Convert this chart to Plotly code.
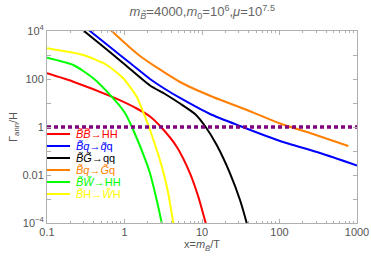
import plotly.graph_objects as go

# ---- data ----
red_x = [0.1, 0.2185, 0.6835, 1.437, 2.133, 2.958, 4.716, 7.00, 8.96, 11.16, 11.78]
red_y = [172.8, 77.2, 18.3, 5.90, 2.74, 1.0, 0.151, 0.01177, 1.25e-3, 1e-4, 5.6e-5]

yel_x = [0.1, 0.2939, 0.5894, 0.9563, 1.437, 1.839, 2.133, 3.047, 3.641, 4.264, 4.457]
yel_y = [1903, 1000, 383, 110, 18.3, 2.69, 0.75, 0.0215, 1.96e-3, 1e-4, 4.2e-5]

grn_x = [0.1, 0.2185, 0.3957, 0.6835, 1.015, 1.299, 1.934, 2.133, 2.603, 3.020, 3.139]
grn_y = [772, 383, 107, 18.3, 3.83, 0.75, 0.0307, 0.01177, 9.08e-4, 1e-4, 5.1e-5]

blk_x = [0.259, 0.483, 0.956, 2.133, 3.332, 5.202, 8.123, 10.93, 15.48, 22.98, 30.93, 37.74, 40.42]
blk_y = [14700, 2873, 464, 53.6, 23.7, 9.5, 3.48, 1.10, 0.178, 0.0118, 9.08e-4, 1e-4, 4.2e-5]

blu_x = [0.309, 0.650, 1.178, 2.133, 3.332, 5.202, 12.69, 30.93, 101.5, 333.1, 1000]
blu_y = [14700, 2154, 464, 100, 38.3, 16.2, 3.48, 1.10, 0.261, 0.0825, 0.0249]

org_x = [0.586, 0.6835, 1.585, 5.202, 13.87, 38.07, 101.5, 270.5, 772]
org_y = [16160, 10000, 908, 75.0, 17.8, 5.11, 1.40, 0.511, 0.1616]

ref_x = [0.1, 1000]
ref_y = [1, 1]

x_tickvals = [0.1, 1, 10, 100, 1000]
x_ticktext = ["0.1", "1", "10", "100", "1000"]
y_tickvals = [1e-4, 1e-3, 1e-2, 1e-1, 1, 10, 100, 1e3, 1e4]
y_ticktext = ["10<sup>\u22124</sup>", "", "0.01", "", "1", "", "100", "", "10<sup>4</sup>"]

T = "B\u0303"
labels = [
    f"<i>{T}{T}</i>\u2192HH",
    f"<i>{T}q</i>\u2192<i>q\u0303</i>q",
    f"<i>{T}G\u0303</i>\u2192qq",
    f"<i>{T}q</i>\u2192<i>G\u0303</i>q",
    f"<i>{T}W\u0303</i>\u2192HH",
    f"<i>{T}</i>H\u2192<i>W\u0303</i>H",
]
colors = ["#ff0000", "#0000ff", "#000000", "#ff7f00", "#00ff00", "#ffff00"]
xs_all = [red_x, blu_x, blk_x, org_x, grn_x, yel_x]
ys_all = [red_y, blu_y, blk_y, org_y, grn_y, yel_y]

fig = go.Figure()
for xs, ys, col, name in zip(xs_all, ys_all, colors, labels):
    fig.add_trace(go.Scatter(
        x=xs, y=ys, mode="lines", name=name, showlegend=False,
        line=dict(color=col, width=2, shape="spline", smoothing=0.6)))

fig.add_trace(go.Scatter(x=ref_x, y=ref_y, mode="lines", showlegend=False,
                         line=dict(color="#800080", width=3.5, dash="4px,3px")))

# compact legend (inside plot, below the y=1 line)
plot_h = 192.0
plot_w = 310.0
row0 = 103.0   # px below plot top of the first legend row
row_gap = 12.0
key_len = 23.0
for i, (col, name) in enumerate(zip(colors, labels)):
    yf = 1 - (row0 + i * row_gap) / plot_h
    fig.add_shape(type="line", xref="paper", yref="paper", x0=0.0, x1=key_len / plot_w,
                  y0=yf, y1=yf, line=dict(color=col, width=2))
    fig.add_annotation(xref="paper", yref="paper", x=(key_len + 4) / plot_w, y=yf,
                       xanchor="left", yanchor="middle", showarrow=False,
                       text=f"<span style='color:{col}'>{name}</span>",
                       font=dict(size=11, color=col))

minor_x = []
for d in [0.1, 1, 10, 100]:
    for k in range(2, 10):
        minor_x.append(d * k)

fig.update_layout(
    template="none",
    width=371, height=265,
    margin=dict(l=47, r=14, t=31, b=42, autoexpand=False),
    paper_bgcolor="white", plot_bgcolor="white",
    font=dict(family="Liberation Sans, Arial, sans-serif", size=11, color="#555555"),
    title=dict(text="<i>m</i><sub><i>B\u0303</i></sub>=4000,<i>m</i><sub>0</sub>=10<sup>6</sup>,<i>\u03bc</i>=10<sup>7.5</sup>",
               x=0.545, xanchor="center", y=0.955, yanchor="middle",
               font=dict(size=13, color="#666666")),
    showlegend=False,
    xaxis=dict(type="log", range=[-1, 3], showgrid=False, zeroline=False, automargin=False,
               showline=True, linecolor="#b0b0b0", linewidth=1, mirror="allticks",
               ticks="inside", ticklen=4, tickcolor="#b0b0b0",
               tickvals=x_tickvals, ticktext=x_ticktext,
               minor=dict(ticks="inside", ticklen=2, tickcolor="#b0b0b0", tickvals=minor_x),
               title=dict(text="x=<i>m</i><sub><i>B\u0303</i></sub>/T", font=dict(size=11, color="#555555"), standoff=2)),
    yaxis=dict(type="log", range=[-4, 4], showgrid=False, zeroline=False, automargin=False,
               showline=True, linecolor="#b0b0b0", linewidth=1, mirror="allticks",
               ticks="inside", ticklen=4, tickcolor="#b0b0b0",
               tickvals=y_tickvals, ticktext=y_ticktext,
               title=dict(text="\u0393<sub>ann</sub>/H", font=dict(size=11, color="#555555"), standoff=2)),
)
try:
    fig.update_xaxes(ticklabelstandoff=-1)
except Exception:
    pass

fig.write_html("out.html", config={"displayModeBar": False, "staticPlot": True},
               post_script="document.body.style.margin='0px';document.body.style.padding='0px';")
